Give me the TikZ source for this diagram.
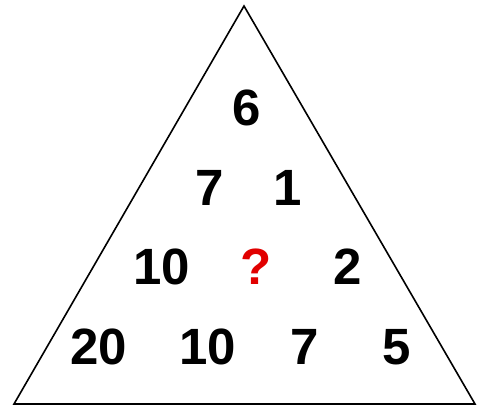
\documentclass[tikz,border=0pt]{standalone}
\usepackage{fontspec}
\setmainfont{Liberation Sans}
\definecolor{qred}{RGB}{225,0,0}
\begin{document}
\begin{tikzpicture}[x=1pt,y=-1pt,
  num/.style={inner sep=0pt,font=\fontsize{51}{51}\selectfont\bfseries}]
\useasboundingbox (0,0) rectangle (487,419);
\coordinate (top) at (244,6);
\coordinate (bl) at (14,404);
\coordinate (br) at (475,404);
\draw[line width=1.6pt,line join=miter] (top) -- (bl) -- (br) -- cycle;
\node[num] (a) at (247,108) {6};
\node[num] (b1) at (210,188) {7};
\node[num] (b2) at (288,188) {1};
\node[num] (c1) at (162,267) {10};
\node[num,text=qred] (c2) at (256,267) {?};
\node[num] (c3) at (348,267) {2};
\node[num] (d1) at (99,347) {20};
\node[num] (d2) at (208,347) {10};
\node[num] (d3) at (305,347) {7};
\node[num] (d4) at (397,347) {5};
\end{tikzpicture}
\end{document}
